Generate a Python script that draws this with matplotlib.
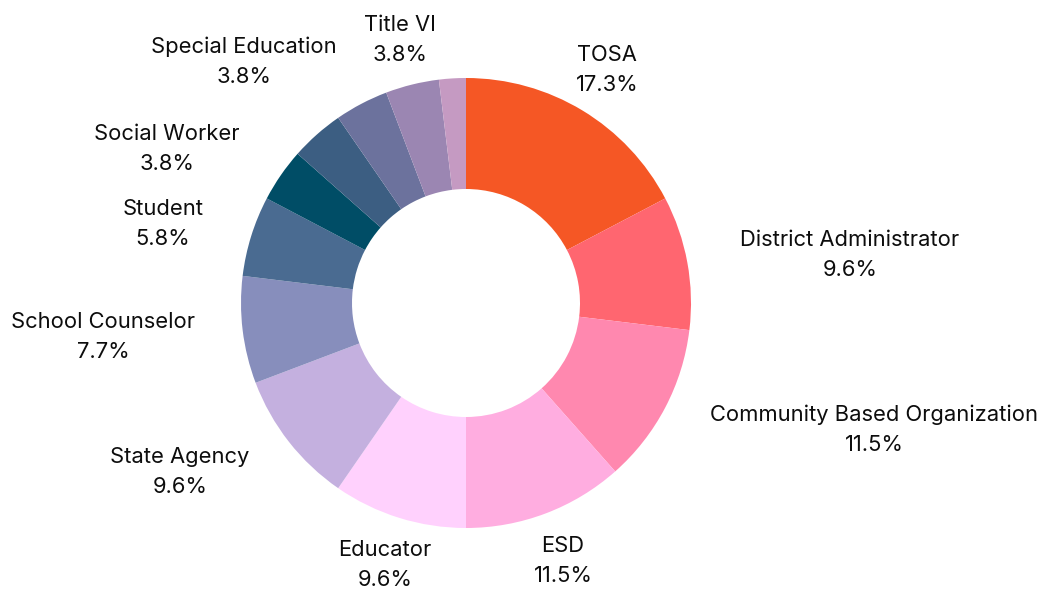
import matplotlib
matplotlib.use("Agg")
import matplotlib.pyplot as plt

# ---- data ----
categories = ["TOSA", "District Administrator", "Community Based Organization", "ESD",
              "Educator", "State Agency", "School Counselor", "Student",
              "Social Worker", "", "Special Education", "Title VI", ""]
counts = [9, 5, 6, 6, 5, 5, 4, 3, 2, 2, 2, 2, 1]
colors = ["#F55725", "#FF6670", "#FF88AF", "#FFADE0", "#FFD1FD", "#C4B0DF", "#878EBC",
          "#4A6B91", "#004D66", "#3C5E82", "#6C729D", "#9B86B2", "#C59AC2"]

# ---- layout (pixel coordinates, origin top-left) ----
W, H = 1041, 601
CX, CY, R = 466, 303, 225
HOLE = 114
label_pos = [(607, 70), (850, 255), (874, 430), (563, 561), (385, 565), (180, 472),
             (103, 337), (163, 224), (167, 149), None, (244, 62), (400, 40), None]

plt.rcParams['font.family'] = ['Inter', 'DejaVu Sans']
fig = plt.figure(figsize=(W / 100, H / 100), dpi=100)
ax = fig.add_axes([0, 0, 1, 1])

total = sum(counts)
ax.pie(counts, colors=colors, startangle=90, counterclock=False, center=(CX, H - CY),
       radius=R, wedgeprops=dict(width=R - HOLE, linewidth=0), frame=True)
ax.set_xlim(0, W)
ax.set_ylim(0, H)
ax.set_aspect('equal')
ax.axis('off')

for name, c, pos in zip(categories, counts, label_pos):
    if pos is None or not name:
        continue
    pct = 100 * c / total
    ax.text(pos[0], H - pos[1], f"{name}\n{pct:.1f}%", ha='center', va='center',
            fontsize=15.8, color='#0d0d0d', linespacing=1.65)

fig.savefig("out.png", dpi=100)
